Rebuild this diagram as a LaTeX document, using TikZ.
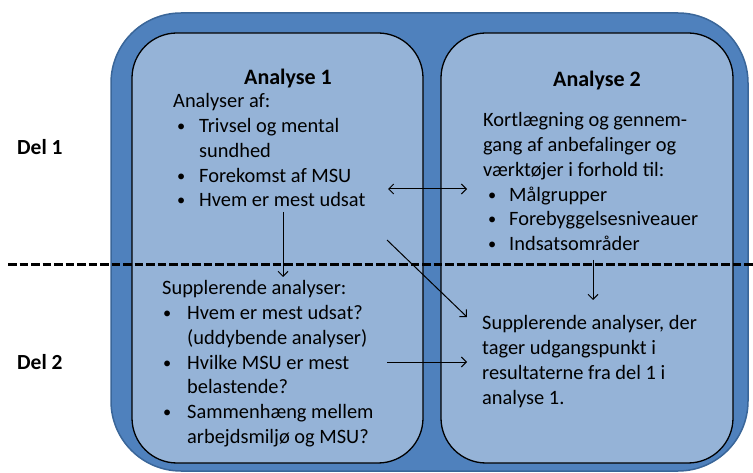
\documentclass[tikz,border=0pt]{standalone}
\usepackage{fontspec}
\setmainfont{Carlito}
\usetikzlibrary{arrows.meta}

\definecolor{outerblue}{HTML}{4F81BD}
\definecolor{outerline}{HTML}{3A6699}
\definecolor{innerblue}{HTML}{95B3D7}

\newcommand{\blt}{\raisebox{1pt}{\scalebox{0.8}{\textbullet}}}

\tikzset{
    bodytext/.style={inner sep=0pt, anchor=base west,
        font=\fontsize{20.4}{24.7}\selectfont},
    titletext/.style={inner sep=0pt, anchor=base,
        font=\fontsize{22}{26}\selectfont\bfseries},
    sidetext/.style={inner sep=0pt, anchor=base west,
        font=\fontsize{21.5}{26}\selectfont\bfseries},
    flow/.style={line width=1pt},
    >={Straight Barb[length=5pt,width=10pt]}
}

\begin{document}
\begin{tikzpicture}[x=1pt, y=-1pt]
    % ===== PARAMETERS =====
    \pgfmathsetmacro{\W}{753}   % picture width
    \pgfmathsetmacro{\H}{473}   % picture height
    \pgfmathsetmacro{\Dy}{265}  % height of the dashed split

    \useasboundingbox (0,0) rectangle (\W,\H);

    % ===== BOXES =====
    % Outer frame
    \draw[fill=outerblue, draw=outerline, line width=1.5pt, rounded corners=70pt]
        (111,13) rectangle (748,471);
    % Inner panels
    \draw[fill=innerblue, line width=1.3pt, rounded corners=45pt]
        (132,33) rectangle (423,463);
    \draw[fill=innerblue, line width=1.3pt, rounded corners=45pt]
        (441,33) rectangle (733,463);

    % Split between the two parts
    \draw[line width=3pt, dash pattern=on 8.5pt off 3pt] (8,\Dy) -- (\W,\Dy);

    % ===== SIDE LABELS =====
    \node[sidetext] (del1) at (17,155) {Del 1};
    \node[sidetext] (del2) at (17,370) {Del 2};

    % ===== TITLES =====
    \node[titletext] (title1) at (288,85) {Analyse 1};
    \node[titletext] (title2) at (597,87) {Analyse 2};

    % ===== TEXT INSIDE PANELS =====
    \node[bodytext] (a1top) at (173,108) {%
        \begin{tabular}[t]{@{\hspace{4pt}}p{22pt}@{}l@{}}
            \multicolumn{2}{@{}l@{}}{Analyser af:}\\
            \blt & Trivsel og mental\\
                 & sundhed\\
            \blt & Forekomst af MSU\\
            \blt & Hvem er mest udsat
        \end{tabular}};
    \node[bodytext] (a1bot) at (162,295) {%
        \begin{tabular}[t]{@{\hspace{1pt}}p{24pt}@{}l@{}}
            \multicolumn{2}{@{}l@{}}{Supplerende analyser:}\\
            \blt & Hvem er mest udsat?\\
                 & (uddybende analyser)\\
            \blt & Hvilke MSU er mest\\
                 & belastende?\\
            \blt & Sammenhæng mellem\\
                 & arbejdsmiljø og MSU?
        \end{tabular}};
    \node[bodytext] (a2top) at (483,127) {%
        \begin{tabular}[t]{@{\hspace{5pt}}p{21pt}@{}l@{}}
            \multicolumn{2}{@{}l@{}}{Kortlægning og gennem-}\\
            \multicolumn{2}{@{}l@{}}{gang af anbefalinger og}\\
            \multicolumn{2}{@{}l@{}}{værktøjer i forhold til:}\\
            \blt & Målgrupper\\
            \blt & Forebyggelsesniveauer\\
            \blt & Indsatsområder
        \end{tabular}};
    \node[bodytext] (a2bot) at (482,330) {%
        \begin{tabular}[t]{@{}l@{}}
            Supplerende analyser, der\\
            tager udgangspunkt i\\
            resultaterne fra del 1 i\\
            analyse 1.
        \end{tabular}};

    % ===== CONNECTORS =====
    \coordinate (dblL)   at (388,189);
    \coordinate (dblR)   at (467,189);
    \coordinate (downA)  at (283,212);
    \coordinate (downB)  at (283,277);
    \coordinate (diagA)  at (387,240);
    \coordinate (diagB)  at (467,317);
    \coordinate (horA)   at (387,362);
    \coordinate (horB)   at (467,362);
    \coordinate (rdownA) at (593,260);
    \coordinate (rdownB) at (593,300);

    \draw[flow, <->] (dblL) -- (dblR);
    \draw[flow, ->] (downA) -- (downB);
    \draw[flow, ->] (diagA) -- (diagB);
    \draw[flow, ->] (horA) -- (horB);
    \draw[flow, ->] (rdownA) -- (rdownB);
\end{tikzpicture}
\end{document}
